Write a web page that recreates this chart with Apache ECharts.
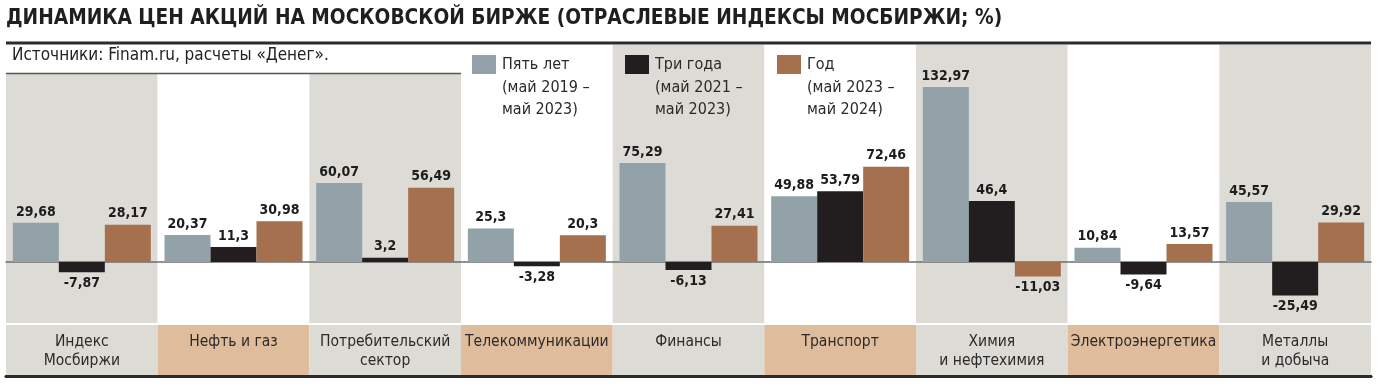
<!DOCTYPE html>
<html>
<head>
<meta charset="utf-8">
<script src="https://cdn.jsdelivr.net/npm/echarts@6/dist/echarts.min.js"></script>
<style>
html,body{margin:0;padding:0;background:#fff;}
#chart{width:1380px;height:389px;}
</style>
</head>
<body>
<div id="chart"></div>
<script>
const titleText = 'ДИНАМИКА ЦЕН АКЦИЙ НА МОСКОВСКОЙ БИРЖЕ (ОТРАСЛЕВЫЕ ИНДЕКСЫ МОСБИРЖИ; %)';
const sourceText = 'Источники: Finam.ru, расчеты «Денег».';
const categories = ['Индекс\nМосбиржи', 'Нефть и газ', 'Потребительский\nсектор', 'Телекоммуникации', 'Финансы', 'Транспорт', 'Химия\nи нефтехимия', 'Электроэнергетика', 'Металлы\nи добыча'];
const fiveYears = [29.68, 20.37, 60.07, 25.3, 75.29, 49.88, 132.97, 10.84, 45.57];
const threeYears = [-7.87, 11.3, 3.2, -3.28, -6.13, 53.79, 46.4, -9.64, -25.49];
const oneYear = [28.17, 30.98, 56.49, 20.3, 27.41, 72.46, -11.03, 13.57, 29.92];
const seriesNames = ['Пять лет', 'Три года', 'Год'];
const seriesPeriods = ['(май 2019 –\nмай 2023)', '(май 2021 –\nмай 2023)', '(май 2023 –\nмай 2024)'];
const seriesColors = ['#93a1a8', '#221e1f', '#a5704e'];

const FONT = "'DejaVu Sans Condensed', 'Liberation Sans Narrow', sans-serif";
const fmt = v => String(v).replace('.', ',');

const chart = echarts.init(document.getElementById('chart'), null, {renderer: 'canvas'});

const allData = [fiveYears, threeYears, oneYear];
const series = allData.map((arr, i) => ({
  name: seriesNames[i],
  type: 'bar',
  xAxisIndex: 0,
  yAxisIndex: 0,
  barWidth: 46,
  barGap: '0%',
  itemStyle: {color: seriesColors[i]},
  label: {
    show: true,
    position: 'top',
    distance: 4,
    formatter: p => fmt(p.value),
    fontFamily: FONT,
    fontWeight: 'bold',
    fontSize: 14,
    color: '#1c1c1c'
  },
  data: arr.map(v => v < 0 ? {value: v, label: {position: 'bottom'}} : v)
}));

const legendX = [472, 625, 777];
const legends = seriesNames.map((n, i) => ({
  data: [n],
  left: legendX[i],
  top: 55,
  padding: 0,
  icon: 'rect',
  itemWidth: 24,
  itemHeight: 19,
  selectedMode: false,
  textStyle: {fontFamily: FONT, fontSize: 16, color: '#2a2a2a', padding: [0, 0, 0, 1]}
}));

const periodTexts = seriesPeriods.map((t, i) => ({
  type: 'text',
  z: 20,
  left: legendX[i] + 30,
  top: 77,
  style: {text: t, font: '16px ' + FONT, fill: '#2a2a2a', lineHeight: 22}
}));

chart.setOption({
  animation: false,
  backgroundColor: '#ffffff',
  title: {
    text: titleText,
    left: 6,
    top: 8,
    padding: 0,
    textStyle: {fontFamily: FONT, fontWeight: 'bold', fontSize: 20.7, color: '#1f1f1f'}
  },
  legend: legends,
  grid: [
    {left: 6, right: 9, top: 45, height: 278},
    {left: 6, right: 9, top: 325, height: 51}
  ],
  xAxis: [
    {
      type: 'category', gridIndex: 0, data: categories,
      axisLine: {onZero: true, lineStyle: {color: '#6e6e6e', width: 1.5}},
      axisTick: {show: false},
      axisLabel: {show: false},
      splitLine: {show: false},
      splitArea: {show: true, interval: 0, areaStyle: {color: ['#dddbd5', '#ffffff']}}
    },
    {
      type: 'category', gridIndex: 1, data: categories, position: 'top',
      axisLine: {show: true, lineStyle: {color: '#2b2b2b', width: 3}},
      axisTick: {show: false},
      axisLabel: {show: true, inside: true, interval: 0, margin: 8, fontFamily: FONT, fontSize: 15.5, lineHeight: 18.5, color: '#2a2a2a'},
      splitLine: {show: false},
      splitArea: {show: true, interval: 0, areaStyle: {color: ['#dddbd5', '#dfbd9c']}}
    },
    {
      type: 'category', gridIndex: 1, data: categories, position: 'bottom',
      axisLine: {show: true, lineStyle: {color: '#2b2b2b', width: 2.5}},
      axisTick: {show: false},
      axisLabel: {show: false}
    }
  ],
  yAxis: [
    {type: 'value', gridIndex: 0, min: -46.5, max: 165, show: false, splitLine: {show: false}},
    {type: 'value', gridIndex: 1, min: 0, max: 1, show: false, splitLine: {show: false}}
  ],
  series: series,
  graphic: [
    {type: 'line', z: 10, shape: {x1: 6, y1: 43, x2: 1371, y2: 43}, style: {stroke: '#2b2b2b', lineWidth: 3}},
    {type: 'rect', z: 1, shape: {x: 6, y: 44.5, width: 455, height: 29}, style: {fill: '#ffffff'}},
    {type: 'line', z: 10, shape: {x1: 6, y1: 73.5, x2: 461, y2: 73.5}, style: {stroke: '#555555', lineWidth: 1.5}},
    {type: 'text', z: 10, left: 12, top: 47, style: {text: sourceText, font: '17px ' + FONT, fill: '#222222'}}
  ].concat(periodTexts)
});
</script>
</body>
</html>
